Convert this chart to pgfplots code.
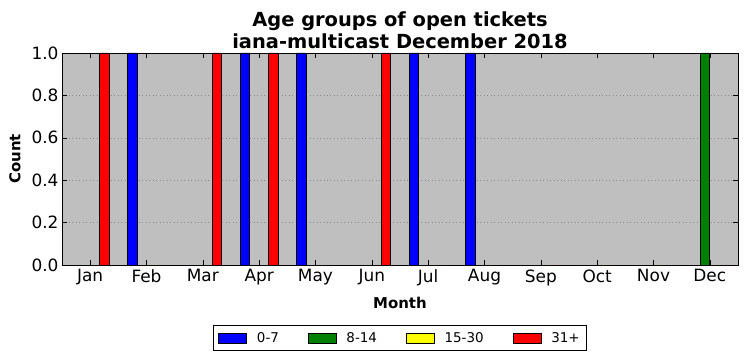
\documentclass[border=0pt]{standalone}
\usepackage{pgfplots}
\pgfplotsset{compat=1.18}
\usepackage{fontspec}
\setmainfont{DejaVu Sans}
\definecolor{bgsilver}{RGB}{191,191,191}
\definecolor{mblue}{RGB}{0,0,255}
\definecolor{mgreen}{RGB}{0,128,0}
\definecolor{myellow}{RGB}{255,255,0}
\definecolor{mred}{RGB}{255,0,0}
\begin{document}
\begin{tikzpicture}
\begin{axis}[
  scale only axis,
  width=676bp, height=212bp,
  xmin=-0.5, xmax=11.5,
  ymin=0, ymax=1,
  axis background/.style={fill=bgsilver},
  xtick={0,1,2,3,4,5,6,7,8,9,10,11},
  xticklabels={Jan,Feb,Mar,Apr,May,Jun,Jul,Aug,Sep,Oct,Nov,Dec},
  ytick={0,0.2,0.4,0.6,0.8,1.0},
  yticklabel style={/pgf/number format/.cd,fixed,fixed zerofill,precision=1},
  /pgf/number format/assume math mode=true,
  tick align=inside,
  tick pos=both,
  major tick length=5bp,
  tick style={black, line width=0.6pt},
  ymajorgrids,
  grid style={black!45, dash pattern=on 1pt off 2.5pt, line width=0.5pt},
  axis line style={black, line width=0.8pt},
  ticklabel style={font=\fontsize{17}{20}\selectfont},
  xticklabel style={yshift=-1bp},
  title={Age groups of open tickets\\iana-multicast December 2018},
  title style={font=\fontsize{19.5}{22}\selectfont\bfseries, align=center, yshift=-5bp},
  xlabel={Month},
  ylabel={Count},
  label style={font=\fontsize{15}{18}\selectfont\bfseries},
  xlabel style={yshift=-5bp},
  ylabel style={yshift=4bp},
  legend columns=4,
  legend style={at={(0.5,-0.345)}, anchor=center, draw=black, line width=0.8pt,
    font=\fontsize{13.5}{16}\selectfont,
    /tikz/every odd column/.append style={column sep=8bp},
    /tikz/every even column/.append style={column sep=27bp},
    inner xsep=5bp, inner ysep=5bp},
  legend image code/.code={\draw[#1, line width=0.6pt] (0bp,-5bp) rectangle (28bp,5bp);},
  bar width=0.1667,
]
\addplot[ybar, bar shift=-0.25, fill=mblue, draw=black, line width=0.8pt] coordinates {
 (0,0) (1,1) (2,0) (3,1) (4,1) (5,0) (6,1) (7,1) (8,0) (9,0) (10,0) (11,0)};
\addlegendentry{0-7}
\addplot[ybar, bar shift=-0.0833, fill=mgreen, draw=black, line width=0.8pt] coordinates {
 (0,0) (1,0) (2,0) (3,0) (4,0) (5,0) (6,0) (7,0) (8,0) (9,0) (10,0) (11,1)};
\addlegendentry{8-14}
\addplot[ybar, bar shift=0.0833, fill=myellow, draw=black, line width=0.8pt] coordinates {
 (0,0) (1,0) (2,0) (3,0) (4,0) (5,0) (6,0) (7,0) (8,0) (9,0) (10,0) (11,0)};
\addlegendentry{15-30}
\addplot[ybar, bar shift=0.25, fill=mred, draw=black, line width=0.8pt] coordinates {
 (0,1) (1,0) (2,1) (3,1) (4,0) (5,1) (6,0) (7,0) (8,0) (9,0) (10,0) (11,0)};
\addlegendentry{31+}
\end{axis}
\path ([xshift=-62bp,yshift=-96bp]current axis.south west) rectangle ([xshift=9bp,yshift=53bp]current axis.north east);
\end{tikzpicture}
\end{document}
